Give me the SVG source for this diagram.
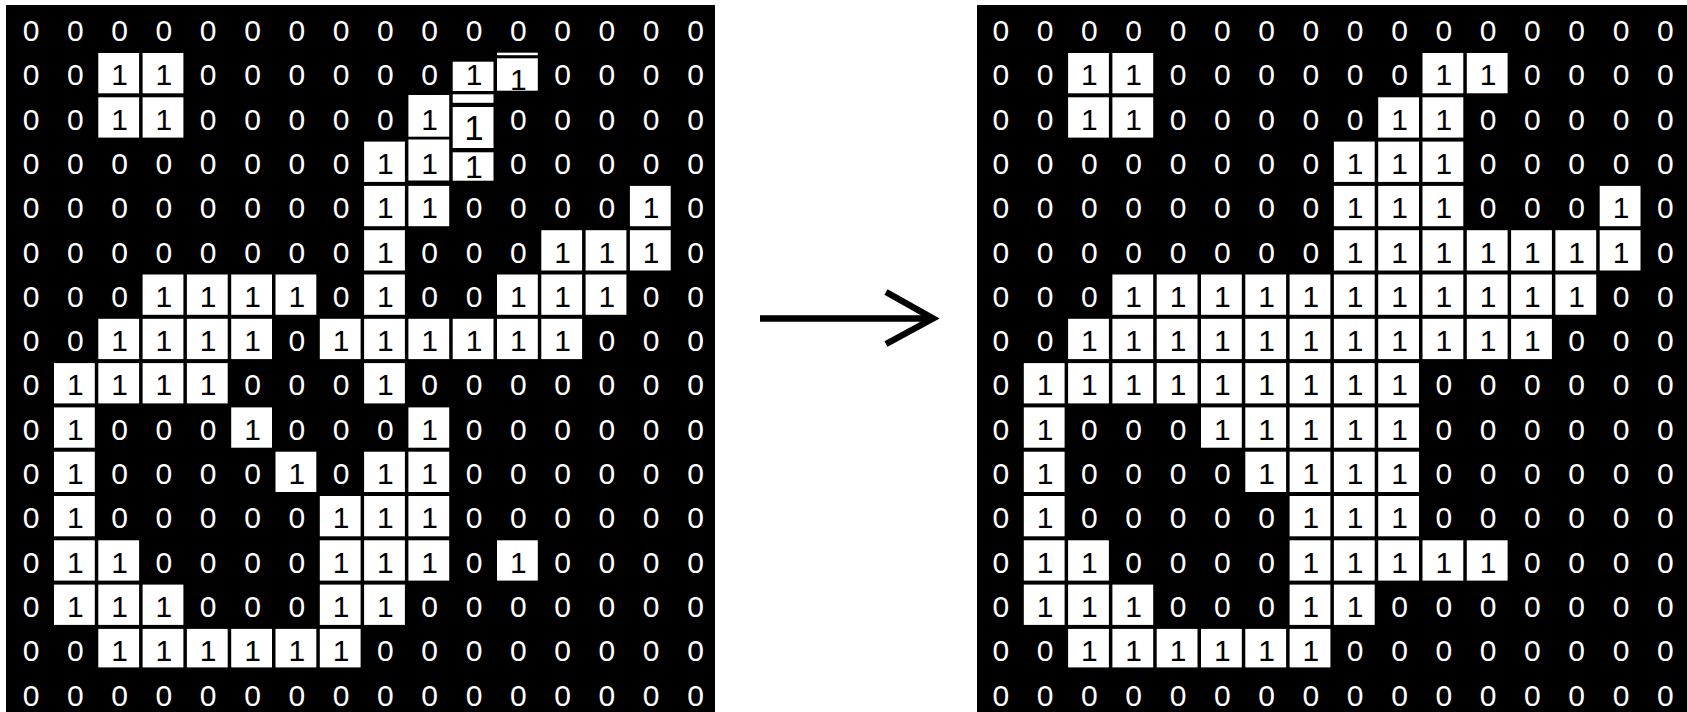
<svg xmlns="http://www.w3.org/2000/svg" width="1687" height="712" viewBox="0 0 1687 712">
<style>
.bg{fill:#000}
.c{fill:#fff}
text{font-family:"Liberation Sans",Arial,sans-serif;font-size:30px;text-anchor:middle}
.z{fill:#fff}
.o{fill:#000}
.ar{stroke:#000;fill:none;stroke-width:6.5}
</style>
<rect width="1687" height="712" fill="#fff"/>

<g id="grid-before">
<rect class="bg" x="6" y="5" width="709" height="707"/>
<g id="before-cells">
<rect class="c" x="98.3" y="53" width="40.8" height="40.3"/><rect class="c" x="142.6" y="53" width="40.8" height="40.3"/>
<rect class="c" x="452.7" y="61.7" width="40.8" height="29.3"/>
<rect class="c" x="497" y="52.7" width="40.8" height="2.5"/><rect class="c" x="497" y="58.3" width="40.8" height="32.4"/>
<rect class="c" x="98.3" y="97.3" width="40.8" height="40.3"/><rect class="c" x="142.6" y="97.3" width="40.8" height="40.3"/><rect class="c" x="408.4" y="95" width="40.8" height="41.7"/>
<rect class="c" x="452.7" y="94.3" width="40.8" height="8.5"/><rect class="c" x="452.7" y="107" width="40.8" height="41"/>
<rect class="c" x="364.1" y="141.6" width="40.8" height="40.3"/><rect class="c" x="408.4" y="139.5" width="40.8" height="41"/><rect class="c" x="452.7" y="152.3" width="40.8" height="28.4"/>
<rect class="c" x="364.1" y="185.9" width="40.8" height="40.3"/><rect class="c" x="408.4" y="185.9" width="40.8" height="40.3"/><rect class="c" x="629.9" y="185.9" width="40.8" height="40.3"/>
<rect class="c" x="364.1" y="230.2" width="40.8" height="40.3"/><rect class="c" x="541.3" y="230.2" width="40.8" height="40.3"/><rect class="c" x="585.6" y="230.2" width="40.8" height="40.3"/><rect class="c" x="629.9" y="230.2" width="40.8" height="40.3"/>
<rect class="c" x="142.6" y="274.5" width="40.8" height="40.3"/><rect class="c" x="186.9" y="274.5" width="40.8" height="40.3"/><rect class="c" x="231.2" y="274.5" width="40.8" height="40.3"/><rect class="c" x="275.5" y="274.5" width="40.8" height="40.3"/><rect class="c" x="364.1" y="274.5" width="40.8" height="40.3"/><rect class="c" x="497" y="274.5" width="40.8" height="40.3"/><rect class="c" x="541.3" y="274.5" width="40.8" height="40.3"/><rect class="c" x="585.6" y="274.5" width="40.8" height="40.3"/>
<rect class="c" x="98.3" y="318.8" width="40.8" height="40.3"/><rect class="c" x="142.6" y="318.8" width="40.8" height="40.3"/><rect class="c" x="186.9" y="318.8" width="40.8" height="40.3"/><rect class="c" x="231.2" y="318.8" width="40.8" height="40.3"/><rect class="c" x="319.8" y="318.8" width="40.8" height="40.3"/><rect class="c" x="364.1" y="318.8" width="40.8" height="40.3"/><rect class="c" x="408.4" y="318.8" width="40.8" height="40.3"/><rect class="c" x="452.7" y="318.8" width="40.8" height="40.3"/><rect class="c" x="497" y="318.8" width="40.8" height="40.3"/><rect class="c" x="541.3" y="318.8" width="40.8" height="40.3"/>
<rect class="c" x="54" y="363.1" width="40.8" height="40.3"/><rect class="c" x="98.3" y="363.1" width="40.8" height="40.3"/><rect class="c" x="142.6" y="363.1" width="40.8" height="40.3"/><rect class="c" x="186.9" y="363.1" width="40.8" height="40.3"/><rect class="c" x="364.1" y="363.1" width="40.8" height="40.3"/>
<rect class="c" x="54" y="407.4" width="40.8" height="40.3"/><rect class="c" x="231.2" y="407.4" width="40.8" height="40.3"/><rect class="c" x="408.4" y="407.4" width="40.8" height="40.3"/>
<rect class="c" x="54" y="451.7" width="40.8" height="40.3"/><rect class="c" x="275.5" y="451.7" width="40.8" height="40.3"/><rect class="c" x="364.1" y="451.7" width="40.8" height="40.3"/><rect class="c" x="408.4" y="451.7" width="40.8" height="40.3"/>
<rect class="c" x="54" y="496" width="40.8" height="40.3"/><rect class="c" x="319.8" y="496" width="40.8" height="40.3"/><rect class="c" x="364.1" y="496" width="40.8" height="40.3"/><rect class="c" x="408.4" y="496" width="40.8" height="40.3"/>
<rect class="c" x="54" y="540.3" width="40.8" height="40.3"/><rect class="c" x="98.3" y="540.3" width="40.8" height="40.3"/><rect class="c" x="319.8" y="540.3" width="40.8" height="40.3"/><rect class="c" x="364.1" y="540.3" width="40.8" height="40.3"/><rect class="c" x="408.4" y="540.3" width="40.8" height="40.3"/><rect class="c" x="497" y="540.3" width="40.8" height="40.3"/>
<rect class="c" x="54" y="584.6" width="40.8" height="40.3"/><rect class="c" x="98.3" y="584.6" width="40.8" height="40.3"/><rect class="c" x="142.6" y="584.6" width="40.8" height="40.3"/><rect class="c" x="319.8" y="584.6" width="40.8" height="40.3"/><rect class="c" x="364.1" y="584.6" width="40.8" height="40.3"/>
<rect class="c" x="98.3" y="628.9" width="40.8" height="38.5"/><rect class="c" x="142.6" y="628.9" width="40.8" height="38.5"/><rect class="c" x="186.9" y="628.9" width="40.8" height="38.5"/><rect class="c" x="231.2" y="628.9" width="40.8" height="38.5"/><rect class="c" x="275.5" y="628.9" width="40.8" height="38.5"/><rect class="c" x="319.8" y="628.9" width="40.8" height="38.5"/>
</g>
<g id="before-zeros" class="z">
<text x="31" y="41">0</text><text x="75.3" y="41">0</text><text x="119.6" y="41">0</text><text x="163.9" y="41">0</text><text x="208.2" y="41">0</text><text x="252.5" y="41">0</text><text x="296.8" y="41">0</text><text x="341.1" y="41">0</text><text x="385.4" y="41">0</text><text x="429.7" y="41">0</text><text x="474" y="41">0</text><text x="518.3" y="41">0</text><text x="562.6" y="41">0</text><text x="606.9" y="41">0</text><text x="651.2" y="41">0</text><text x="695.5" y="41">0</text>
<text x="31" y="85.3">0</text><text x="75.3" y="85.3">0</text><text x="208.2" y="85.3">0</text><text x="252.5" y="85.3">0</text><text x="296.8" y="85.3">0</text><text x="341.1" y="85.3">0</text><text x="385.4" y="85.3">0</text><text x="429.7" y="85.3">0</text><text x="562.6" y="85.3">0</text><text x="606.9" y="85.3">0</text><text x="651.2" y="85.3">0</text><text x="695.5" y="85.3">0</text>
<text x="31" y="129.6">0</text><text x="75.3" y="129.6">0</text><text x="208.2" y="129.6">0</text><text x="252.5" y="129.6">0</text><text x="296.8" y="129.6">0</text><text x="341.1" y="129.6">0</text><text x="385.4" y="129.6">0</text><text x="518.3" y="129.6">0</text><text x="562.6" y="129.6">0</text><text x="606.9" y="129.6">0</text><text x="651.2" y="129.6">0</text><text x="695.5" y="129.6">0</text>
<text x="31" y="173.9">0</text><text x="75.3" y="173.9">0</text><text x="119.6" y="173.9">0</text><text x="163.9" y="173.9">0</text><text x="208.2" y="173.9">0</text><text x="252.5" y="173.9">0</text><text x="296.8" y="173.9">0</text><text x="341.1" y="173.9">0</text><text x="518.3" y="173.9">0</text><text x="562.6" y="173.9">0</text><text x="606.9" y="173.9">0</text><text x="651.2" y="173.9">0</text><text x="695.5" y="173.9">0</text>
<text x="31" y="218.2">0</text><text x="75.3" y="218.2">0</text><text x="119.6" y="218.2">0</text><text x="163.9" y="218.2">0</text><text x="208.2" y="218.2">0</text><text x="252.5" y="218.2">0</text><text x="296.8" y="218.2">0</text><text x="341.1" y="218.2">0</text><text x="474" y="218.2">0</text><text x="518.3" y="218.2">0</text><text x="562.6" y="218.2">0</text><text x="606.9" y="218.2">0</text><text x="695.5" y="218.2">0</text>
<text x="31" y="262.5">0</text><text x="75.3" y="262.5">0</text><text x="119.6" y="262.5">0</text><text x="163.9" y="262.5">0</text><text x="208.2" y="262.5">0</text><text x="252.5" y="262.5">0</text><text x="296.8" y="262.5">0</text><text x="341.1" y="262.5">0</text><text x="429.7" y="262.5">0</text><text x="474" y="262.5">0</text><text x="518.3" y="262.5">0</text><text x="695.5" y="262.5">0</text>
<text x="31" y="306.8">0</text><text x="75.3" y="306.8">0</text><text x="119.6" y="306.8">0</text><text x="341.1" y="306.8">0</text><text x="429.7" y="306.8">0</text><text x="474" y="306.8">0</text><text x="651.2" y="306.8">0</text><text x="695.5" y="306.8">0</text>
<text x="31" y="351.1">0</text><text x="75.3" y="351.1">0</text><text x="296.8" y="351.1">0</text><text x="606.9" y="351.1">0</text><text x="651.2" y="351.1">0</text><text x="695.5" y="351.1">0</text>
<text x="31" y="395.4">0</text><text x="252.5" y="395.4">0</text><text x="296.8" y="395.4">0</text><text x="341.1" y="395.4">0</text><text x="429.7" y="395.4">0</text><text x="474" y="395.4">0</text><text x="518.3" y="395.4">0</text><text x="562.6" y="395.4">0</text><text x="606.9" y="395.4">0</text><text x="651.2" y="395.4">0</text><text x="695.5" y="395.4">0</text>
<text x="31" y="439.7">0</text><text x="119.6" y="439.7">0</text><text x="163.9" y="439.7">0</text><text x="208.2" y="439.7">0</text><text x="296.8" y="439.7">0</text><text x="341.1" y="439.7">0</text><text x="385.4" y="439.7">0</text><text x="474" y="439.7">0</text><text x="518.3" y="439.7">0</text><text x="562.6" y="439.7">0</text><text x="606.9" y="439.7">0</text><text x="651.2" y="439.7">0</text><text x="695.5" y="439.7">0</text>
<text x="31" y="484">0</text><text x="119.6" y="484">0</text><text x="163.9" y="484">0</text><text x="208.2" y="484">0</text><text x="252.5" y="484">0</text><text x="341.1" y="484">0</text><text x="474" y="484">0</text><text x="518.3" y="484">0</text><text x="562.6" y="484">0</text><text x="606.9" y="484">0</text><text x="651.2" y="484">0</text><text x="695.5" y="484">0</text>
<text x="31" y="528.3">0</text><text x="119.6" y="528.3">0</text><text x="163.9" y="528.3">0</text><text x="208.2" y="528.3">0</text><text x="252.5" y="528.3">0</text><text x="296.8" y="528.3">0</text><text x="474" y="528.3">0</text><text x="518.3" y="528.3">0</text><text x="562.6" y="528.3">0</text><text x="606.9" y="528.3">0</text><text x="651.2" y="528.3">0</text><text x="695.5" y="528.3">0</text>
<text x="31" y="572.6">0</text><text x="163.9" y="572.6">0</text><text x="208.2" y="572.6">0</text><text x="252.5" y="572.6">0</text><text x="296.8" y="572.6">0</text><text x="474" y="572.6">0</text><text x="562.6" y="572.6">0</text><text x="606.9" y="572.6">0</text><text x="651.2" y="572.6">0</text><text x="695.5" y="572.6">0</text>
<text x="31" y="616.9">0</text><text x="208.2" y="616.9">0</text><text x="252.5" y="616.9">0</text><text x="296.8" y="616.9">0</text><text x="429.7" y="616.9">0</text><text x="474" y="616.9">0</text><text x="518.3" y="616.9">0</text><text x="562.6" y="616.9">0</text><text x="606.9" y="616.9">0</text><text x="651.2" y="616.9">0</text><text x="695.5" y="616.9">0</text>
<text x="31" y="661.2">0</text><text x="75.3" y="661.2">0</text><text x="385.4" y="661.2">0</text><text x="429.7" y="661.2">0</text><text x="474" y="661.2">0</text><text x="518.3" y="661.2">0</text><text x="562.6" y="661.2">0</text><text x="606.9" y="661.2">0</text><text x="651.2" y="661.2">0</text><text x="695.5" y="661.2">0</text>
<text x="31" y="705.5">0</text><text x="75.3" y="705.5">0</text><text x="119.6" y="705.5">0</text><text x="163.9" y="705.5">0</text><text x="208.2" y="705.5">0</text><text x="252.5" y="705.5">0</text><text x="296.8" y="705.5">0</text><text x="341.1" y="705.5">0</text><text x="385.4" y="705.5">0</text><text x="429.7" y="705.5">0</text><text x="474" y="705.5">0</text><text x="518.3" y="705.5">0</text><text x="562.6" y="705.5">0</text><text x="606.9" y="705.5">0</text><text x="651.2" y="705.5">0</text><text x="695.5" y="705.5">0</text>
</g>
<g id="before-ones" class="o">
<text x="119.6" y="85.3">1</text><text x="163.9" y="85.3">1</text><text x="474" y="85.3">1</text><text x="518.3" y="90.3">1</text>
<text x="119.6" y="129.6">1</text><text x="163.9" y="129.6">1</text><text x="429.7" y="129.6">1</text><text x="474" y="140" style="font-size:35px">1</text>
<text x="385.4" y="173.9">1</text><text x="429.7" y="173.9">1</text><text x="474" y="178" style="font-size:32px">1</text>
<text x="385.4" y="218.2">1</text><text x="429.7" y="218.2">1</text><text x="651.2" y="218.2">1</text>
<text x="385.4" y="262.5">1</text><text x="562.6" y="262.5">1</text><text x="606.9" y="262.5">1</text><text x="651.2" y="262.5">1</text>
<text x="163.9" y="306.8">1</text><text x="208.2" y="306.8">1</text><text x="252.5" y="306.8">1</text><text x="296.8" y="306.8">1</text><text x="385.4" y="306.8">1</text><text x="518.3" y="306.8">1</text><text x="562.6" y="306.8">1</text><text x="606.9" y="306.8">1</text>
<text x="119.6" y="351.1">1</text><text x="163.9" y="351.1">1</text><text x="208.2" y="351.1">1</text><text x="252.5" y="351.1">1</text><text x="341.1" y="351.1">1</text><text x="385.4" y="351.1">1</text><text x="429.7" y="351.1">1</text><text x="474" y="351.1">1</text><text x="518.3" y="351.1">1</text><text x="562.6" y="351.1">1</text>
<text x="75.3" y="395.4">1</text><text x="119.6" y="395.4">1</text><text x="163.9" y="395.4">1</text><text x="208.2" y="395.4">1</text><text x="385.4" y="395.4">1</text>
<text x="75.3" y="439.7">1</text><text x="252.5" y="439.7">1</text><text x="429.7" y="439.7">1</text>
<text x="75.3" y="484">1</text><text x="296.8" y="484">1</text><text x="385.4" y="484">1</text><text x="429.7" y="484">1</text>
<text x="75.3" y="528.3">1</text><text x="341.1" y="528.3">1</text><text x="385.4" y="528.3">1</text><text x="429.7" y="528.3">1</text>
<text x="75.3" y="572.6">1</text><text x="119.6" y="572.6">1</text><text x="341.1" y="572.6">1</text><text x="385.4" y="572.6">1</text><text x="429.7" y="572.6">1</text><text x="518.3" y="572.6">1</text>
<text x="75.3" y="616.9">1</text><text x="119.6" y="616.9">1</text><text x="163.9" y="616.9">1</text><text x="341.1" y="616.9">1</text><text x="385.4" y="616.9">1</text>
<text x="119.6" y="661.2">1</text><text x="163.9" y="661.2">1</text><text x="208.2" y="661.2">1</text><text x="252.5" y="661.2">1</text><text x="296.8" y="661.2">1</text><text x="341.1" y="661.2">1</text>
</g>
</g>

<g id="connectors">
<line class="ar" x1="760" y1="318.5" x2="931" y2="318.5"/>
<polyline class="ar" stroke-width="6" points="886,292 933,318.5 886,344"/>
</g>

<g id="grid-after">
<rect class="bg" x="977" y="5" width="710" height="707"/>
<g id="after-cells" transform="translate(969.8,0)">
<rect class="c" x="98.3" y="53" width="40.8" height="40.3"/><rect class="c" x="142.6" y="53" width="40.8" height="40.3"/><rect class="c" x="452.7" y="53" width="40.8" height="40.3"/><rect class="c" x="497" y="53" width="40.8" height="40.3"/>
<rect class="c" x="98.3" y="97.3" width="40.8" height="40.3"/><rect class="c" x="142.6" y="97.3" width="40.8" height="40.3"/><rect class="c" x="408.4" y="97.3" width="40.8" height="40.3"/><rect class="c" x="452.7" y="97.3" width="40.8" height="40.3"/>
<rect class="c" x="364.1" y="141.6" width="40.8" height="40.3"/><rect class="c" x="408.4" y="141.6" width="40.8" height="40.3"/><rect class="c" x="452.7" y="141.6" width="40.8" height="40.3"/>
<rect class="c" x="364.1" y="185.9" width="40.8" height="40.3"/><rect class="c" x="408.4" y="185.9" width="40.8" height="40.3"/><rect class="c" x="452.7" y="185.9" width="40.8" height="40.3"/><rect class="c" x="629.9" y="185.9" width="40.8" height="40.3"/>
<rect class="c" x="364.1" y="230.2" width="40.8" height="40.3"/><rect class="c" x="408.4" y="230.2" width="40.8" height="40.3"/><rect class="c" x="452.7" y="230.2" width="40.8" height="40.3"/><rect class="c" x="497" y="230.2" width="40.8" height="40.3"/><rect class="c" x="541.3" y="230.2" width="40.8" height="40.3"/><rect class="c" x="585.6" y="230.2" width="40.8" height="40.3"/><rect class="c" x="629.9" y="230.2" width="40.8" height="40.3"/>
<rect class="c" x="142.6" y="274.5" width="40.8" height="40.3"/><rect class="c" x="186.9" y="274.5" width="40.8" height="40.3"/><rect class="c" x="231.2" y="274.5" width="40.8" height="40.3"/><rect class="c" x="275.5" y="274.5" width="40.8" height="40.3"/><rect class="c" x="319.8" y="274.5" width="40.8" height="40.3"/><rect class="c" x="364.1" y="274.5" width="40.8" height="40.3"/><rect class="c" x="408.4" y="274.5" width="40.8" height="40.3"/><rect class="c" x="452.7" y="274.5" width="40.8" height="40.3"/><rect class="c" x="497" y="274.5" width="40.8" height="40.3"/><rect class="c" x="541.3" y="274.5" width="40.8" height="40.3"/><rect class="c" x="585.6" y="274.5" width="40.8" height="40.3"/>
<rect class="c" x="98.3" y="318.8" width="40.8" height="40.3"/><rect class="c" x="142.6" y="318.8" width="40.8" height="40.3"/><rect class="c" x="186.9" y="318.8" width="40.8" height="40.3"/><rect class="c" x="231.2" y="318.8" width="40.8" height="40.3"/><rect class="c" x="275.5" y="318.8" width="40.8" height="40.3"/><rect class="c" x="319.8" y="318.8" width="40.8" height="40.3"/><rect class="c" x="364.1" y="318.8" width="40.8" height="40.3"/><rect class="c" x="408.4" y="318.8" width="40.8" height="40.3"/><rect class="c" x="452.7" y="318.8" width="40.8" height="40.3"/><rect class="c" x="497" y="318.8" width="40.8" height="40.3"/><rect class="c" x="541.3" y="318.8" width="40.8" height="40.3"/>
<rect class="c" x="54" y="363.1" width="40.8" height="40.3"/><rect class="c" x="98.3" y="363.1" width="40.8" height="40.3"/><rect class="c" x="142.6" y="363.1" width="40.8" height="40.3"/><rect class="c" x="186.9" y="363.1" width="40.8" height="40.3"/><rect class="c" x="231.2" y="363.1" width="40.8" height="40.3"/><rect class="c" x="275.5" y="363.1" width="40.8" height="40.3"/><rect class="c" x="319.8" y="363.1" width="40.8" height="40.3"/><rect class="c" x="364.1" y="363.1" width="40.8" height="40.3"/><rect class="c" x="408.4" y="363.1" width="40.8" height="40.3"/>
<rect class="c" x="54" y="407.4" width="40.8" height="40.3"/><rect class="c" x="231.2" y="407.4" width="40.8" height="40.3"/><rect class="c" x="275.5" y="407.4" width="40.8" height="40.3"/><rect class="c" x="319.8" y="407.4" width="40.8" height="40.3"/><rect class="c" x="364.1" y="407.4" width="40.8" height="40.3"/><rect class="c" x="408.4" y="407.4" width="40.8" height="40.3"/>
<rect class="c" x="54" y="451.7" width="40.8" height="40.3"/><rect class="c" x="275.5" y="451.7" width="40.8" height="40.3"/><rect class="c" x="319.8" y="451.7" width="40.8" height="40.3"/><rect class="c" x="364.1" y="451.7" width="40.8" height="40.3"/><rect class="c" x="408.4" y="451.7" width="40.8" height="40.3"/>
<rect class="c" x="54" y="496" width="40.8" height="40.3"/><rect class="c" x="319.8" y="496" width="40.8" height="40.3"/><rect class="c" x="364.1" y="496" width="40.8" height="40.3"/><rect class="c" x="408.4" y="496" width="40.8" height="40.3"/>
<rect class="c" x="54" y="540.3" width="40.8" height="40.3"/><rect class="c" x="98.3" y="540.3" width="40.8" height="40.3"/><rect class="c" x="319.8" y="540.3" width="40.8" height="40.3"/><rect class="c" x="364.1" y="540.3" width="40.8" height="40.3"/><rect class="c" x="408.4" y="540.3" width="40.8" height="40.3"/><rect class="c" x="452.7" y="540.3" width="40.8" height="40.3"/><rect class="c" x="497" y="540.3" width="40.8" height="40.3"/>
<rect class="c" x="54" y="584.6" width="40.8" height="40.3"/><rect class="c" x="98.3" y="584.6" width="40.8" height="40.3"/><rect class="c" x="142.6" y="584.6" width="40.8" height="40.3"/><rect class="c" x="319.8" y="584.6" width="40.8" height="40.3"/><rect class="c" x="364.1" y="584.6" width="40.8" height="40.3"/>
<rect class="c" x="98.3" y="628.9" width="40.8" height="38.5"/><rect class="c" x="142.6" y="628.9" width="40.8" height="38.5"/><rect class="c" x="186.9" y="628.9" width="40.8" height="38.5"/><rect class="c" x="231.2" y="628.9" width="40.8" height="38.5"/><rect class="c" x="275.5" y="628.9" width="40.8" height="38.5"/><rect class="c" x="319.8" y="628.9" width="40.8" height="38.5"/>
</g>
<g id="after-zeros" class="z" transform="translate(969.8,0)">
<text x="31" y="41">0</text><text x="75.3" y="41">0</text><text x="119.6" y="41">0</text><text x="163.9" y="41">0</text><text x="208.2" y="41">0</text><text x="252.5" y="41">0</text><text x="296.8" y="41">0</text><text x="341.1" y="41">0</text><text x="385.4" y="41">0</text><text x="429.7" y="41">0</text><text x="474" y="41">0</text><text x="518.3" y="41">0</text><text x="562.6" y="41">0</text><text x="606.9" y="41">0</text><text x="651.2" y="41">0</text><text x="695.5" y="41">0</text>
<text x="31" y="85.3">0</text><text x="75.3" y="85.3">0</text><text x="208.2" y="85.3">0</text><text x="252.5" y="85.3">0</text><text x="296.8" y="85.3">0</text><text x="341.1" y="85.3">0</text><text x="385.4" y="85.3">0</text><text x="429.7" y="85.3">0</text><text x="562.6" y="85.3">0</text><text x="606.9" y="85.3">0</text><text x="651.2" y="85.3">0</text><text x="695.5" y="85.3">0</text>
<text x="31" y="129.6">0</text><text x="75.3" y="129.6">0</text><text x="208.2" y="129.6">0</text><text x="252.5" y="129.6">0</text><text x="296.8" y="129.6">0</text><text x="341.1" y="129.6">0</text><text x="385.4" y="129.6">0</text><text x="518.3" y="129.6">0</text><text x="562.6" y="129.6">0</text><text x="606.9" y="129.6">0</text><text x="651.2" y="129.6">0</text><text x="695.5" y="129.6">0</text>
<text x="31" y="173.9">0</text><text x="75.3" y="173.9">0</text><text x="119.6" y="173.9">0</text><text x="163.9" y="173.9">0</text><text x="208.2" y="173.9">0</text><text x="252.5" y="173.9">0</text><text x="296.8" y="173.9">0</text><text x="341.1" y="173.9">0</text><text x="518.3" y="173.9">0</text><text x="562.6" y="173.9">0</text><text x="606.9" y="173.9">0</text><text x="651.2" y="173.9">0</text><text x="695.5" y="173.9">0</text>
<text x="31" y="218.2">0</text><text x="75.3" y="218.2">0</text><text x="119.6" y="218.2">0</text><text x="163.9" y="218.2">0</text><text x="208.2" y="218.2">0</text><text x="252.5" y="218.2">0</text><text x="296.8" y="218.2">0</text><text x="341.1" y="218.2">0</text><text x="518.3" y="218.2">0</text><text x="562.6" y="218.2">0</text><text x="606.9" y="218.2">0</text><text x="695.5" y="218.2">0</text>
<text x="31" y="262.5">0</text><text x="75.3" y="262.5">0</text><text x="119.6" y="262.5">0</text><text x="163.9" y="262.5">0</text><text x="208.2" y="262.5">0</text><text x="252.5" y="262.5">0</text><text x="296.8" y="262.5">0</text><text x="341.1" y="262.5">0</text><text x="695.5" y="262.5">0</text>
<text x="31" y="306.8">0</text><text x="75.3" y="306.8">0</text><text x="119.6" y="306.8">0</text><text x="651.2" y="306.8">0</text><text x="695.5" y="306.8">0</text>
<text x="31" y="351.1">0</text><text x="75.3" y="351.1">0</text><text x="606.9" y="351.1">0</text><text x="651.2" y="351.1">0</text><text x="695.5" y="351.1">0</text>
<text x="31" y="395.4">0</text><text x="474" y="395.4">0</text><text x="518.3" y="395.4">0</text><text x="562.6" y="395.4">0</text><text x="606.9" y="395.4">0</text><text x="651.2" y="395.4">0</text><text x="695.5" y="395.4">0</text>
<text x="31" y="439.7">0</text><text x="119.6" y="439.7">0</text><text x="163.9" y="439.7">0</text><text x="208.2" y="439.7">0</text><text x="474" y="439.7">0</text><text x="518.3" y="439.7">0</text><text x="562.6" y="439.7">0</text><text x="606.9" y="439.7">0</text><text x="651.2" y="439.7">0</text><text x="695.5" y="439.7">0</text>
<text x="31" y="484">0</text><text x="119.6" y="484">0</text><text x="163.9" y="484">0</text><text x="208.2" y="484">0</text><text x="252.5" y="484">0</text><text x="474" y="484">0</text><text x="518.3" y="484">0</text><text x="562.6" y="484">0</text><text x="606.9" y="484">0</text><text x="651.2" y="484">0</text><text x="695.5" y="484">0</text>
<text x="31" y="528.3">0</text><text x="119.6" y="528.3">0</text><text x="163.9" y="528.3">0</text><text x="208.2" y="528.3">0</text><text x="252.5" y="528.3">0</text><text x="296.8" y="528.3">0</text><text x="474" y="528.3">0</text><text x="518.3" y="528.3">0</text><text x="562.6" y="528.3">0</text><text x="606.9" y="528.3">0</text><text x="651.2" y="528.3">0</text><text x="695.5" y="528.3">0</text>
<text x="31" y="572.6">0</text><text x="163.9" y="572.6">0</text><text x="208.2" y="572.6">0</text><text x="252.5" y="572.6">0</text><text x="296.8" y="572.6">0</text><text x="562.6" y="572.6">0</text><text x="606.9" y="572.6">0</text><text x="651.2" y="572.6">0</text><text x="695.5" y="572.6">0</text>
<text x="31" y="616.9">0</text><text x="208.2" y="616.9">0</text><text x="252.5" y="616.9">0</text><text x="296.8" y="616.9">0</text><text x="429.7" y="616.9">0</text><text x="474" y="616.9">0</text><text x="518.3" y="616.9">0</text><text x="562.6" y="616.9">0</text><text x="606.9" y="616.9">0</text><text x="651.2" y="616.9">0</text><text x="695.5" y="616.9">0</text>
<text x="31" y="661.2">0</text><text x="75.3" y="661.2">0</text><text x="385.4" y="661.2">0</text><text x="429.7" y="661.2">0</text><text x="474" y="661.2">0</text><text x="518.3" y="661.2">0</text><text x="562.6" y="661.2">0</text><text x="606.9" y="661.2">0</text><text x="651.2" y="661.2">0</text><text x="695.5" y="661.2">0</text>
<text x="31" y="705.5">0</text><text x="75.3" y="705.5">0</text><text x="119.6" y="705.5">0</text><text x="163.9" y="705.5">0</text><text x="208.2" y="705.5">0</text><text x="252.5" y="705.5">0</text><text x="296.8" y="705.5">0</text><text x="341.1" y="705.5">0</text><text x="385.4" y="705.5">0</text><text x="429.7" y="705.5">0</text><text x="474" y="705.5">0</text><text x="518.3" y="705.5">0</text><text x="562.6" y="705.5">0</text><text x="606.9" y="705.5">0</text><text x="651.2" y="705.5">0</text><text x="695.5" y="705.5">0</text>
</g>
<g id="after-ones" class="o" transform="translate(969.8,0)">
<text x="119.6" y="85.3">1</text><text x="163.9" y="85.3">1</text><text x="474" y="85.3">1</text><text x="518.3" y="85.3">1</text>
<text x="119.6" y="129.6">1</text><text x="163.9" y="129.6">1</text><text x="429.7" y="129.6">1</text><text x="474" y="129.6">1</text>
<text x="385.4" y="173.9">1</text><text x="429.7" y="173.9">1</text><text x="474" y="173.9">1</text>
<text x="385.4" y="218.2">1</text><text x="429.7" y="218.2">1</text><text x="474" y="218.2">1</text><text x="651.2" y="218.2">1</text>
<text x="385.4" y="262.5">1</text><text x="429.7" y="262.5">1</text><text x="474" y="262.5">1</text><text x="518.3" y="262.5">1</text><text x="562.6" y="262.5">1</text><text x="606.9" y="262.5">1</text><text x="651.2" y="262.5">1</text>
<text x="163.9" y="306.8">1</text><text x="208.2" y="306.8">1</text><text x="252.5" y="306.8">1</text><text x="296.8" y="306.8">1</text><text x="341.1" y="306.8">1</text><text x="385.4" y="306.8">1</text><text x="429.7" y="306.8">1</text><text x="474" y="306.8">1</text><text x="518.3" y="306.8">1</text><text x="562.6" y="306.8">1</text><text x="606.9" y="306.8">1</text>
<text x="119.6" y="351.1">1</text><text x="163.9" y="351.1">1</text><text x="208.2" y="351.1">1</text><text x="252.5" y="351.1">1</text><text x="296.8" y="351.1">1</text><text x="341.1" y="351.1">1</text><text x="385.4" y="351.1">1</text><text x="429.7" y="351.1">1</text><text x="474" y="351.1">1</text><text x="518.3" y="351.1">1</text><text x="562.6" y="351.1">1</text>
<text x="75.3" y="395.4">1</text><text x="119.6" y="395.4">1</text><text x="163.9" y="395.4">1</text><text x="208.2" y="395.4">1</text><text x="252.5" y="395.4">1</text><text x="296.8" y="395.4">1</text><text x="341.1" y="395.4">1</text><text x="385.4" y="395.4">1</text><text x="429.7" y="395.4">1</text>
<text x="75.3" y="439.7">1</text><text x="252.5" y="439.7">1</text><text x="296.8" y="439.7">1</text><text x="341.1" y="439.7">1</text><text x="385.4" y="439.7">1</text><text x="429.7" y="439.7">1</text>
<text x="75.3" y="484">1</text><text x="296.8" y="484">1</text><text x="341.1" y="484">1</text><text x="385.4" y="484">1</text><text x="429.7" y="484">1</text>
<text x="75.3" y="528.3">1</text><text x="341.1" y="528.3">1</text><text x="385.4" y="528.3">1</text><text x="429.7" y="528.3">1</text>
<text x="75.3" y="572.6">1</text><text x="119.6" y="572.6">1</text><text x="341.1" y="572.6">1</text><text x="385.4" y="572.6">1</text><text x="429.7" y="572.6">1</text><text x="474" y="572.6">1</text><text x="518.3" y="572.6">1</text>
<text x="75.3" y="616.9">1</text><text x="119.6" y="616.9">1</text><text x="163.9" y="616.9">1</text><text x="341.1" y="616.9">1</text><text x="385.4" y="616.9">1</text>
<text x="119.6" y="661.2">1</text><text x="163.9" y="661.2">1</text><text x="208.2" y="661.2">1</text><text x="252.5" y="661.2">1</text><text x="296.8" y="661.2">1</text><text x="341.1" y="661.2">1</text>
</g>
</g>
</svg>
